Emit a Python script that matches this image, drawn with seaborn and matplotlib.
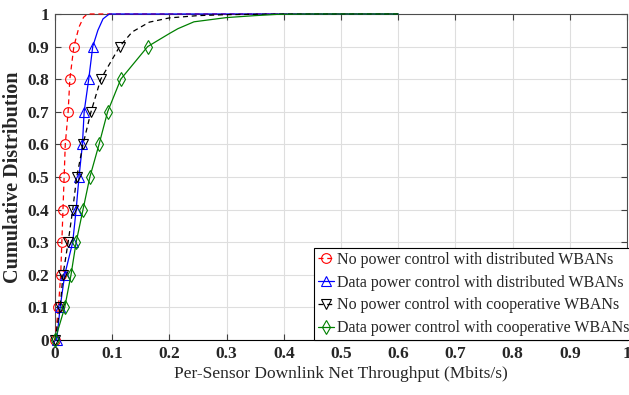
import numpy as np
import pandas as pd
import matplotlib
matplotlib.use("Agg")
import matplotlib.pyplot as plt
import seaborn as sns

# ---- data ----
levels = [0.0, 0.1, 0.2, 0.3, 0.4, 0.5, 0.6, 0.7, 0.8, 0.9]

red_x = [0.0, 0.006, 0.010, 0.012, 0.014, 0.016, 0.018, 0.023, 0.026, 0.033, 0.042, 0.050, 0.057, 0.6]
red_y = [0.0, 0.1, 0.2, 0.3, 0.4, 0.5, 0.6, 0.7, 0.8, 0.9, 0.96, 0.99, 1.0, 1.0]

blue_x = [0.003, 0.009, 0.017, 0.031, 0.037, 0.042, 0.048, 0.051, 0.059, 0.066, 0.075, 0.084, 0.095, 0.6]
blue_y = [0.0, 0.1, 0.2, 0.3, 0.4, 0.5, 0.6, 0.7, 0.8, 0.9, 0.95, 0.985, 1.0, 1.0]

black_x = [0.0, 0.009, 0.014, 0.023, 0.031, 0.038, 0.049, 0.063, 0.080, 0.113, 0.135, 0.165, 0.2, 0.25, 0.3, 0.4, 0.6]
black_y = [0.0, 0.1, 0.2, 0.3, 0.4, 0.5, 0.6, 0.7, 0.8, 0.9, 0.945, 0.975, 0.988, 0.995, 0.998, 1.0, 1.0]

green_x = [0.0, 0.017, 0.028, 0.037, 0.049, 0.061, 0.077, 0.092, 0.115, 0.162, 0.2, 0.215, 0.243, 0.3, 0.35, 0.39, 0.45, 0.6]
green_y = [0.0, 0.1, 0.2, 0.3, 0.4, 0.5, 0.6, 0.7, 0.8, 0.9, 0.94, 0.955, 0.976, 0.989, 0.995, 0.999, 1.0, 1.0]

labels = ["No power control with distributed WBANs",
          "Data power control with distributed WBANs",
          "No power control with cooperative WBANs",
          "Data power control with cooperative WBANs"]

x_ticks = [0, 0.1, 0.2, 0.3, 0.4, 0.5, 0.6, 0.7, 0.8, 0.9, 1]
x_ticklabels = ["0", "0.1", "0.2", "0.3", "0.4", "0.5", "0.6", "0.7", "0.8", "0.9", "1"]
y_ticks = [0, 0.1, 0.2, 0.3, 0.4, 0.5, 0.6, 0.7, 0.8, 0.9, 1]
y_ticklabels = ["0", "0.1", "0.2", "0.3", "0.4", "0.5", "0.6", "0.7", "0.8", "0.9", "1"]

# ---- style ----
sns.set_style("white")
plt.rcParams["font.family"] = ["Liberation Serif", "DejaVu Serif"]

fig = plt.figure(figsize=(6.29, 3.95), dpi=100)
ax = fig.add_axes([0.0874, 0.139, 0.9094, 0.8256])

series = [
    (red_x, red_y, "red", (0, (4, 3)), "o"),
    (blue_x, blue_y, "blue", "-", "^"),
    (black_x, black_y, "black", (0, (4, 3)), "v"),
    (green_x, green_y, "#008000", "-", "d"),
]

for (xs, ys, col, ls, mk), lab in zip(series, labels):
    df = pd.DataFrame({"x": xs, "y": ys})
    sns.lineplot(data=df, x="x", y="y", ax=ax, sort=False, estimator=None,
                 color=col, linestyle=ls, linewidth=0.9, marker=mk,
                 markersize=7 if mk != "d" else 7.5, markerfacecolor="none",
                 markeredgecolor=col, markeredgewidth=0.8,
                 markevery=list(range(len(levels))), label=lab,
                 clip_on=False, zorder=5)

ax.set_xlim(0, 1)
ax.set_ylim(0, 1)
ax.set_xticks(x_ticks)
ax.set_xticklabels(x_ticklabels, fontweight="bold", fontsize=12.5)
ax.set_yticks(y_ticks)
ax.set_yticklabels(y_ticklabels, fontweight="bold", fontsize=12.5)
ax.grid(True, color="0.87", linewidth=0.8)
ax.set_axisbelow(True)
ax.tick_params(direction="in", length=4, width=0.8, color="0.25",
               top=True, right=True, bottom=True, left=True, pad=4)

for s in ax.spines.values():
    s.set_visible(True)
    s.set_color("0.3")
    s.set_linewidth(0.8)
ax.spines["bottom"].set_color("black")

ax.set_xlabel("Per-Sensor Downlink Net Throughput (Mbits/s)", fontsize=12.5, labelpad=3)
ax.set_ylabel("Cumulative Distribution", fontsize=14.5, fontweight="bold", labelpad=3)

leg = ax.legend(loc="lower right", bbox_to_anchor=(1.012, 0.0), fontsize=11.5,
                frameon=True, fancybox=False, edgecolor="black", framealpha=1,
                handlelength=1.0, handletextpad=0.2, borderpad=0.25,
                labelspacing=0.42, borderaxespad=0)
leg.get_frame().set_linewidth(0.8)
leg.set_zorder(10)

fig.savefig("out.png", dpi=100)
